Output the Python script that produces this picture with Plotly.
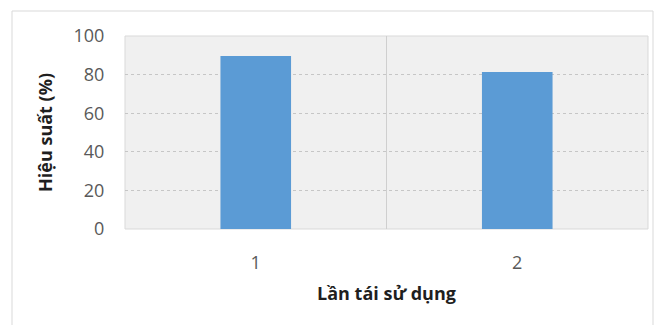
import plotly.graph_objects as go

# Reuse cycles and the efficiency measured after each one
reuse_cycles = [1, 2]
efficiency_pct = [89.7, 81.4]
y_ticks = [0, 20, 40, 60, 80, 100]

TICK_FONT = dict(family="'Open Sans', sans-serif", size=18, color="#595959")
TITLE_FONT = dict(family="'Open Sans', sans-serif", size=18, color="#1f1f1f")

fig = go.Figure()
fig.add_trace(go.Bar(
    x=reuse_cycles,
    y=efficiency_pct,
    width=0.27,
    marker=dict(color="#5b9bd5", line=dict(width=0)),
    hoverinfo="skip",
))

fig.update_layout(
    width=667,
    height=325,
    margin=dict(l=125, r=19, t=36, b=96),
    paper_bgcolor="white",
    plot_bgcolor="#f0f0f0",
    showlegend=False,
    font=TICK_FONT,
    xaxis=dict(
        range=[0.5, 2.5],
        tickvals=reuse_cycles,
        ticktext=[str(v) for v in reuse_cycles],
        showgrid=False,
        zeroline=False,
        showline=False,
        ticks="outside",
        ticklen=17,
        tickcolor="rgba(0,0,0,0)",
        tickfont=TICK_FONT,
        minor=dict(tickvals=[1.5], showgrid=True, gridcolor="#cfcfcf", gridwidth=1),
        title=dict(text="<b>Lần tái sử dụng</b>", standoff=14, font=TITLE_FONT),
        fixedrange=True,
    ),
    yaxis=dict(
        range=[0, 100],
        tickvals=y_ticks,
        showgrid=True,
        gridcolor="#c6c6c6",
        griddash="dot",
        gridwidth=1,
        zeroline=False,
        showline=False,
        ticks="outside",
        ticklen=16,
        tickcolor="rgba(0,0,0,0)",
        tickfont=TICK_FONT,
        title=dict(text="<b>Hiệu suất (%)</b>", standoff=16, font=TITLE_FONT),
        fixedrange=True,
    ),
    shapes=[
        # thin frame around the plotting area
        dict(type="rect", xref="paper", yref="paper", x0=0, y0=0, x1=1, y1=1,
             line=dict(color="#d9d9d9", width=1), fillcolor="rgba(0,0,0,0)", layer="below"),
        # outer chart border
        dict(type="rect", xref="paper", yref="paper",
             x0=-113 / 523, x1=1 + 5 / 523, y0=-110 / 193, y1=1 + 25 / 193,
             line=dict(color="#d9d9d9", width=1), fillcolor="rgba(0,0,0,0)", layer="below"),
    ],
)

fig.write_html("out.html", config={"displayModeBar": False})
